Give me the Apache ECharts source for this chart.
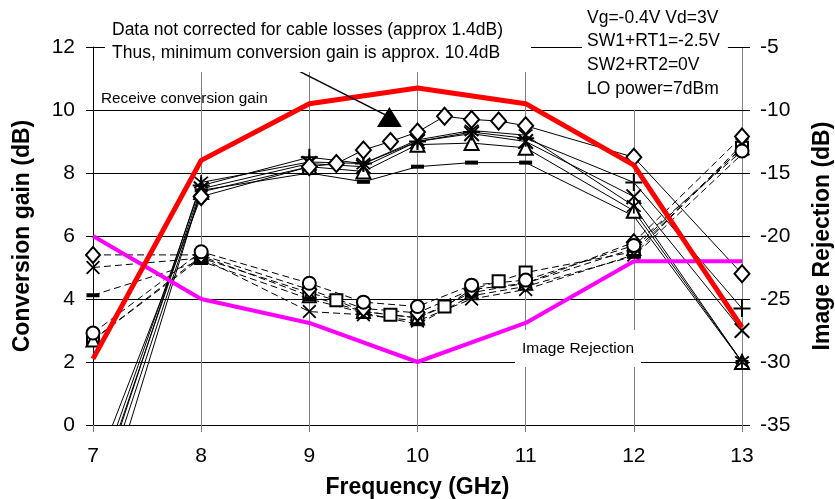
<!DOCTYPE html>
<html>
<head>
<meta charset="utf-8">
<script src="https://cdn.jsdelivr.net/npm/echarts@6/dist/echarts.min.js"></script>
<style>
  html, body { margin: 0; padding: 0; background: #fff; }
  #chart { width: 835px; height: 499px; }
</style>
</head>
<body>
<div id="chart"></div>
<script>
// frequency points (GHz)
var freqMain = [7, 8, 9, 9.5, 10, 10.5, 11, 12, 13];
var freqFine = [7, 8, 9, 9.25, 9.5, 9.75, 10, 10.25, 10.5, 10.75, 11, 12, 13];
var freqRef = [7, 8, 9, 10, 11, 12, 13];

// conversion gain (dB), solid lines, left axis
var gainDiamond = [-1.6, 7.25, 8.2, 8.3, 8.73, 9.0, 9.3, 9.8, 9.7, 9.65, 9.5, 8.5, 4.8];
var gainPlus = [-2.2, 7.6, 8.5, 8.3, 9.0, 9.3, 9.1, 7.7, 3.7];
var gainCross = [-2.5, 7.5, 8.3, 8.2, 9.0, 9.25, 9.0, 7.25, 3.0];
var gainStar = [-2.7, 7.7, 8.35, 8.3, 9.05, 9.35, 9.2, 6.95, 2.0];
var gainTri = [-3.0, 7.4, 8.2, 8.05, 8.9, 8.95, 8.8, 6.8, 2.0];
var gainDash = [-3.8, 7.45, 8.0, 7.72, 8.2, 8.33, 8.33, 6.63, 2.0];

// image rejection (dB), dashed lines, right axis
var rejSquare = [-28.25, -21.75, -24.5, -25.1, -26.0, -26.25, -26.5, -25.6, -24.25, -23.6, -22.9, -21.25, -13.0];
var rejCircle = [-27.7, -21.25, -23.75, -25.25, -25.6, -23.9, -23.5, -20.75, -13.25];
var rejDiamond = [-21.5, -21.5, -24.25, -25.75, -26.1, -24.25, -23.75, -20.5, -12.1];
var rejCross = [-22.5, -21.75, -26.0, -26.25, -26.75, -25.0, -24.25, -21.5, -12.75];
var rejDash = [-24.7, -22.0, -25.0, -26.1, -27.0, -24.75, -24.0, -21.6, -13.5];
var rejTri = [-28.25, -21.6, -24.75, -26.0, -26.5, -24.5, -23.75, -21.0, -13.0];

// thick reference curves
var receiveGain = [2.1, 8.4, 10.2, 10.7, 10.2, 8.25, 3.1];
var imageRej = [-20, -25, -26.9, -30, -26.9, -22, -22];

// annotation arrow (data coords)
var arrowX = [8.79, 9.74];
var arrowY = [11.43, 9.78];

var FONT = 'Liberation Sans';
var crossPath = 'M0.9,0L5,4.1L9.1,0L10,0.9L5.9,5L10,9.1L9.1,10L5,5.9L0.9,10L0,9.1L4.1,5L0,0.9Z';
var SYM = {
  plus: 'path://M4.4,0H5.6V4.4H10V5.6H5.6V10H4.4V5.6H0V4.4H4.4Z',
  cross: 'path://' + crossPath,
  star: 'path://' + crossPath + 'M4.4,-1H5.6V11H4.4Z',
  dash: 'path://M0,0H10V4H0Z'
};

function pts(xs, ys) {
  return xs.map(function (x, i) { return [x, ys[i]]; });
}

function markerLine(name, xs, ys, sym, size, open, dashed, axis) {
  return {
    name: name,
    type: 'line',
    yAxisIndex: axis,
    data: pts(xs, ys),
    symbol: sym,
    symbolSize: size,
    showSymbol: true,
    clip: true,
    silent: true,
    z: 2,
    lineStyle: { color: '#000', width: 1, type: dashed ? [7, 4] : 'solid' },
    itemStyle: open
      ? { color: '#fff', borderColor: '#000', borderWidth: 2 }
      : { color: '#000', borderWidth: 0 }
  };
}

var chart = echarts.init(document.getElementById('chart'));

var option = {
  animation: false,
  backgroundColor: '#fff',
  textStyle: { fontFamily: FONT },
  grid: { left: 93, right: 93, top: 47, bottom: 74, outerBoundsMode: 'none', containLabel: false },
  title: [
    {
      text: 'Data not corrected for cable losses (approx 1.4dB)\nThus, minimum conversion gain is approx. 10.4dB',
      left: 105, top: 15,
      padding: [4, 28, 8, 7],
      backgroundColor: '#fff',
      textStyle: { fontFamily: FONT, fontSize: 17.5, fontWeight: 'normal', color: '#000', lineHeight: 22.5 }
    },
    {
      text: 'Vg=-0.4V Vd=3V\nSW1+RT1=-2.5V\nSW2+RT2=0V\nLO power=7dBm',
      left: 582, top: 2,
      padding: [4, 8, 9, 5],
      backgroundColor: '#fff',
      textStyle: { fontFamily: FONT, fontSize: 17.5, fontWeight: 'normal', color: '#000', lineHeight: 23.7 }
    },
    {
      text: 'Receive conversion gain',
      left: 101, top: 90,
      padding: 0,
      textStyle: { fontFamily: FONT, fontSize: 15.3, fontWeight: 'normal', color: '#000', lineHeight: 17 }
    },
    {
      text: 'Image Rejection',
      left: 515, top: 330,
      padding: [9, 7, 9, 7],
      backgroundColor: '#fff',
      textStyle: { fontFamily: FONT, fontSize: 15.5, fontWeight: 'normal', color: '#000', lineHeight: 19 }
    }
  ],
  xAxis: {
    type: 'value',
    min: 7, max: 13, interval: 1,
    name: 'Frequency (GHz)',
    nameLocation: 'middle',
    nameGap: 51,
    nameTextStyle: { fontFamily: FONT, fontSize: 23, fontWeight: 'bold', color: '#000' },
    axisLine: { show: true, onZero: false, lineStyle: { color: '#000', width: 1 } },
    axisTick: { show: true, length: 7, lineStyle: { color: '#777' } },
    axisLabel: { fontFamily: FONT, fontSize: 21, color: '#000', margin: 21 },
    splitLine: { show: true, lineStyle: { color: '#808080', width: 1 } }
  },
  yAxis: [
    {
      type: 'value',
      min: 0, max: 12, interval: 2,
      name: 'Conversion gain (dB)',
      nameLocation: 'middle',
      nameGap: 59,
      nameTextStyle: { fontFamily: FONT, fontSize: 23, fontWeight: 'bold', color: '#000' },
      axisLine: { show: true, lineStyle: { color: '#000', width: 1 } },
      axisTick: { show: true, length: 7, lineStyle: { color: '#000' } },
      axisLabel: { fontFamily: FONT, fontSize: 21, color: '#000', margin: 18 },
      splitLine: { show: true, lineStyle: { color: '#000', width: 1 } }
    },
    {
      type: 'value',
      position: 'right',
      min: -35, max: -5, interval: 5,
      name: 'Image Rejection (dB)',
      nameLocation: 'middle',
      nameGap: 69,
      nameRotate: 90,
      nameTextStyle: { fontFamily: FONT, fontSize: 23, fontWeight: 'bold', color: '#000' },
      axisLine: { show: false },
      axisTick: { show: true, length: 8, lineStyle: { color: '#000' } },
      axisLabel: { fontFamily: FONT, fontSize: 21, color: '#000', margin: 18 },
      splitLine: { show: false }
    }
  ],
  series: [
    // image rejection, dashed
    markerLine('IR square', freqFine, rejSquare, 'rect', 12, true, true, 1),
    markerLine('IR triangle', freqMain, rejTri, 'triangle', 13, true, true, 1),
    markerLine('IR dash', freqMain, rejDash, SYM.dash, [13, 4], false, true, 1),
    markerLine('IR cross', freqMain, rejCross, SYM.cross, 14, false, true, 1),
    markerLine('IR diamond', freqMain, rejDiamond, 'diamond', [14, 16], true, true, 1),
    markerLine('IR circle', freqMain, rejCircle, 'circle', 13, true, true, 1),
    // conversion gain, solid
    markerLine('CG dash', freqMain, gainDash, SYM.dash, [13, 4], false, false, 0),
    markerLine('CG triangle', freqMain, gainTri, 'triangle', 14, true, false, 0),
    markerLine('CG star', freqMain, gainStar, SYM.star, 15, false, false, 0),
    markerLine('CG cross', freqMain, gainCross, SYM.cross, 16, false, false, 0),
    markerLine('CG plus', freqMain, gainPlus, SYM.plus, 17, false, false, 0),
    markerLine('CG diamond', freqFine, gainDiamond, 'diamond', [15, 17], true, false, 0),
    {
      name: 'Image Rejection',
      type: 'line',
      yAxisIndex: 1,
      data: pts(freqRef, imageRej),
      symbol: 'none',
      silent: true,
      z: 3,
      lineStyle: { color: '#ff00ff', width: 4 }
    },
    {
      name: 'Receive conversion gain',
      type: 'line',
      yAxisIndex: 0,
      data: pts(freqRef, receiveGain),
      symbol: 'none',
      silent: true,
      z: 3,
      lineStyle: { color: '#ff0000', width: 5 }
    },
    {
      name: 'note',
      type: 'line',
      yAxisIndex: 0,
      data: [
        { value: [arrowX[0], arrowY[0]], symbol: 'none' },
        { value: [arrowX[1], arrowY[1]], symbol: 'triangle', symbolSize: [25, 20] }
      ],
      showSymbol: true,
      silent: true,
      z: 4,
      lineStyle: { color: '#000', width: 1.5 },
      itemStyle: { color: '#000', borderWidth: 0 }
    }
  ]
};

chart.setOption(option);
</script>
</body>
</html>
